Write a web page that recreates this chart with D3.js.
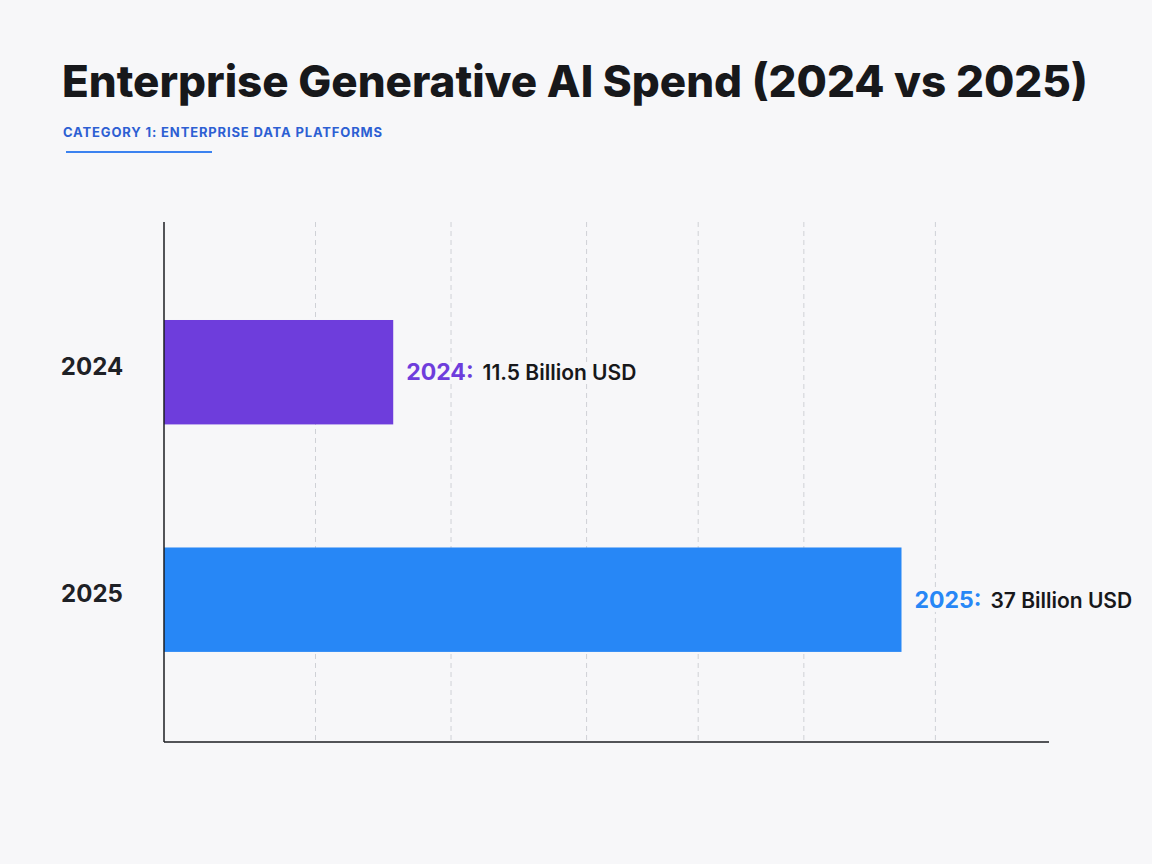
<!DOCTYPE html>
<html>
<head>
<meta charset="utf-8">
<script src="https://cdn.jsdelivr.net/npm/d3@7"></script>
<style>
  html, body { margin: 0; padding: 0; background: #f7f7f9; }
  svg { display: block; }
</style>
</head>
<body>
<div id="chart"></div>
<script>
// data
var years = ["2024", "2025"];
var spend = [11.5, 37];
var valueLabels = ["11.5 Billion USD", "37 Billion USD"];
var barColors = ["#6e3ddc", "#2787f6"];
var gridValues = [7.6, 14.4, 21.2, 26.8, 32.1, 38.7];

var width = 1152;
var height = 864;

var svg = d3.select("#chart").append("svg")
    .attr("width", width)
    .attr("height", height);

svg.append("rect")
    .attr("width", width)
    .attr("height", height)
    .attr("fill", "#f7f7f9");

//title
var title = svg.append("text")
    .attr("x", 62)
    .attr("y", 97)
    .attr("font-family", "Inter, 'Noto Sans', sans-serif")
    .attr("font-weight", 800)
    .attr("font-size", 46)
    .attr("fill", "#17181b")
    .text("Enterprise Generative AI Spend (2024 vs 2025)");
// fit title to the width seen in the reference
var tw = title.node().getComputedTextLength();
title.attr("font-size", 46 * 1026 / tw);

svg.append("text")
    .attr("x", 63)
    .attr("y", 137)
    .attr("font-family", "Inter, 'Noto Sans', sans-serif")
    .attr("font-weight", 700)
    .attr("font-size", 13)
    .attr("letter-spacing", 0.85)
    .attr("fill", "#2d5fd3")
    .text("CATEGORY 1: ENTERPRISE DATA PLATFORMS");

svg.append("line")
    .attr("x1", 66).attr("x2", 212)
    .attr("y1", 152).attr("y2", 152)
    .attr("stroke", "#3b82f0")
    .attr("stroke-width", 2);

//scales
var plotLeft = 164, plotRight = 1049, plotTop = 222, plotBottom = 742;
var x = d3.scaleLinear().domain([0, 44.4]).range([plotLeft, plotRight]);
var y = d3.scaleBand().domain(years).range([plotTop, plotBottom])
    .paddingInner(0.541).paddingOuter(0.4134).align(0.521);

//grid lines
svg.selectAll(".grid")
    .data(gridValues)
    .enter().append("line")
    .attr("class", "grid")
    .attr("x1", d => x(d)).attr("x2", d => x(d))
    .attr("y1", plotTop).attr("y2", plotBottom)
    .attr("stroke", "#cfd1d6")
    .attr("stroke-width", 1)
    .attr("stroke-dasharray", "5,4");

//bars
svg.selectAll(".bar")
    .data(years)
    .enter().append("rect")
    .attr("class", "bar")
    .attr("x", x(0))
    .attr("y", d => y(d))
    .attr("width", (d, i) => x(spend[i]) - x(0))
    .attr("height", y.bandwidth())
    .attr("fill", (d, i) => barColors[i]);

//axes lines
svg.append("line")
    .attr("x1", plotLeft).attr("x2", plotLeft)
    .attr("y1", plotTop).attr("y2", plotBottom)
    .attr("stroke", "#1c1e22").attr("stroke-width", 1.5);
svg.append("line")
    .attr("x1", plotLeft).attr("x2", plotRight)
    .attr("y1", plotBottom).attr("y2", plotBottom)
    .attr("stroke", "#1c1e22").attr("stroke-width", 1.5);

//category labels
svg.selectAll(".cat")
    .data(years)
    .enter().append("text")
    .attr("class", "cat")
    .attr("x", 92)
    .attr("y", d => y(d) + y.bandwidth() / 2 - 4)
    .attr("text-anchor", "middle")
    .attr("dominant-baseline", "middle")
    .attr("font-family", "Inter, 'Noto Sans', sans-serif")
    .attr("font-weight", 700)
    .attr("font-size", 24)
    .attr("fill", "#1e2126")
    .text(d => d);

//value labels with page-coloured halo over grid lines
var vl = svg.selectAll(".val")
    .data(years)
    .enter().append("text")
    .attr("class", "val")
    .attr("x", (d, i) => x(spend[i]) + 13)
    .attr("y", d => y(d) + y.bandwidth() / 2 + 8)
    .attr("font-family", "Inter, 'Noto Sans', sans-serif")
    .attr("font-weight", 700)
    .attr("stroke", "#f7f7f9")
    .attr("stroke-width", 8)
    .attr("paint-order", "stroke");

vl.append("tspan")
    .attr("font-size", 23)
    .attr("fill", (d, i) => barColors[i])
    .text(d => d + ":");
vl.append("tspan")
    .attr("dx", 9)
    .attr("font-size", 21)
    .attr("font-weight", 600)
    .attr("fill", "#17181b")
    .text((d, i) => valueLabels[i]);
</script>
</body>
</html>
